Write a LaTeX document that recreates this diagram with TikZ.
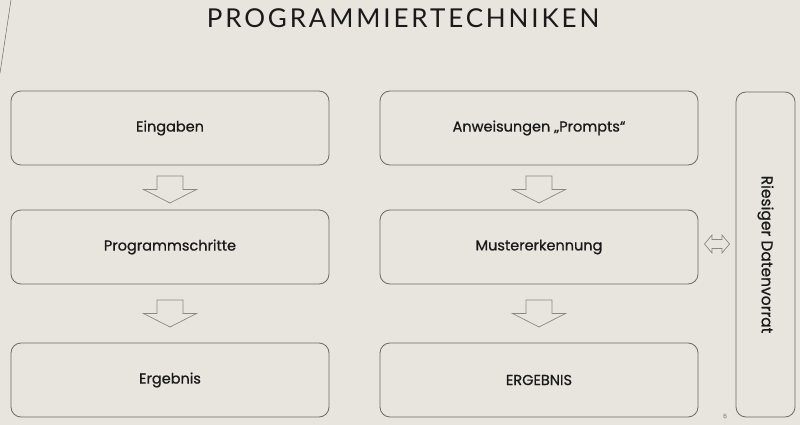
\documentclass[tikz,border=0pt]{standalone}
\usepackage{fontspec}
\setmainfont{Poppins}[FakeBold=0.8]
\newfontfamily\titlefont[LetterSpace=11]{Lato}
\usetikzlibrary{calc}
\definecolor{paper}{HTML}{E8E5DF}
\definecolor{rim}{HTML}{6E6A63}
\definecolor{ink}{HTML}{1A1A1A}
\tikzset{
  stepbox/.style={draw=rim, line width=0.8pt, rounded corners=10pt, text=ink,
    font=\fontsize{14.5}{17}\selectfont},
  blockarrow/.style={draw=rim!80, line width=0.7pt, fill=paper, line join=miter}
}
\begin{document}
\begin{tikzpicture}[x=1pt,y=-1pt]
  \fill[paper] (0,0) rectangle (800,425);
  \useasboundingbox (0,0) rectangle (800,425);
  \draw[rim, line width=0.5pt] (11,0) -- (0,73);
  \node[text=ink, font=\titlefont\fontsize{26}{30}\selectfont] (title) at (403,18.5) {PROGRAMMIERTECHNIKEN};
  % left column
  \node[stepbox, minimum width=318pt, minimum height=74pt] (ein) at (170,128) {Eingaben};
  \node[stepbox, minimum width=318pt, minimum height=74pt] (prog) at (170,247) {Programmschritte};
  \node[stepbox, minimum width=318pt, minimum height=74pt] (erg) at (170,380) {Ergebnis};
  % middle column
  \node[stepbox, minimum width=318pt, minimum height=74pt] (anw) at (539,128) {Anweisungen „Prompts“};
  \node[stepbox, minimum width=318pt, minimum height=74pt] (must) at (539,247) {Mustererkennung};
  \node[stepbox, minimum width=318pt, minimum height=74pt] (ERG) at (539,380) {ERGEBNIS};
  % right
  \node[stepbox, minimum width=59pt, minimum height=325pt] (daten) at (765.5,254.5) {};
  \node[text=ink, font=\fontsize{15.5}{18}\selectfont, rotate=-90] (datentext) at (daten.center) {Riesiger Datenvorrat};
  % down arrows
  \draw[blockarrow] ($(ein.south)!0.5!(prog.north)+(0,2)$) ++(-13,-13.5) -- ++(26,0) -- ++(0,13.5) -- ++(13.5,0) -- ++(-26.5,13.5) -- ++(-26.5,-13.5) -- ++(13.5,0) -- cycle;
  \draw[blockarrow] ($(prog.south)!0.5!(erg.north)$) ++(-13,-13.5) -- ++(26,0) -- ++(0,13.5) -- ++(13.5,0) -- ++(-26.5,13.5) -- ++(-26.5,-13.5) -- ++(13.5,0) -- cycle;
  \draw[blockarrow] ($(anw.south)!0.5!(must.north)+(0,2)$) ++(-13,-13.5) -- ++(26,0) -- ++(0,13.5) -- ++(13.5,0) -- ++(-26.5,13.5) -- ++(-26.5,-13.5) -- ++(13.5,0) -- cycle;
  \draw[blockarrow] ($(must.south)!0.5!(ERG.north)$) ++(-13,-13.5) -- ++(26,0) -- ++(0,13.5) -- ++(13.5,0) -- ++(-26.5,13.5) -- ++(-26.5,-13.5) -- ++(13.5,0) -- cycle;
  % double arrow
  \draw[blockarrow] ($(must.east)!0.5!(daten.west |- must.east)+(0,-3)$) ++(-12.5,0) -- ++(7.5,-9) -- ++(0,4.5) -- ++(10,0) -- ++(0,-4.5) -- ++(7.5,9) -- ++(-7.5,9) -- ++(0,-4.5) -- ++(-10,0) -- ++(0,4.5) -- cycle;
  \node[text=rim!70, font=\fontsize{6}{7}\selectfont] (page) at (725,416) {5};
\end{tikzpicture}
\end{document}
